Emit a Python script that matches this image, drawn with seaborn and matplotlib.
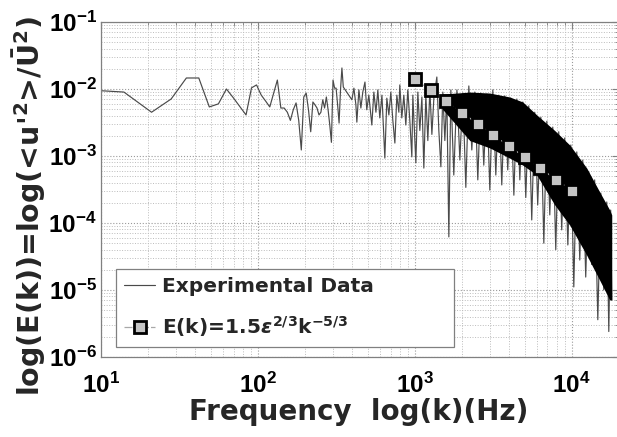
import numpy as np
import pandas as pd
import matplotlib
matplotlib.use("Agg")
import matplotlib.pyplot as plt
import seaborn as sns

# ---------------- data ----------------
# low-frequency part of the measured spectrum (Hz, E(k))
low_freq = [7, 14, 21, 28, 35, 42, 49, 56, 63, 70, 77, 84, 91, 98, 105, 112, 119,
            126, 133, 140, 147, 154, 161, 168, 175, 182, 189, 196, 203, 210, 217,
            224, 231, 238, 245, 252, 259, 266, 273, 280, 287, 294, 301, 308, 315,
            322, 329, 336, 343, 350]
low_val = [0.0099, 0.0090, 0.0045, 0.0071, 0.0146, 0.0146, 0.0054, 0.0060, 0.0100,
           0.0073, 0.0054, 0.0041, 0.0104, 0.0115, 0.0081, 0.0066, 0.0054, 0.0087,
           0.0136, 0.0052, 0.0052, 0.0045, 0.0034, 0.0049, 0.0062, 0.0034, 0.00123,
           0.0076, 0.0087, 0.0049, 0.0023, 0.0064, 0.0058, 0.0052, 0.0041, 0.0045,
           0.0069, 0.0052, 0.0076, 0.0049, 0.0029, 0.0016, 0.0136, 0.0103, 0.0103,
           0.0058, 0.0031, 0.0097, 0.0206, 0.0107]

# mid part (peaks and dips of the spiky trace)
mid_freq = [397, 409, 421, 427, 440, 453, 466, 481, 494, 509, 532, 548, 565, 581,
            598, 617, 635, 644, 663, 683, 703, 724, 746, 768, 791, 802, 826, 851,
            876, 902, 929, 957, 971, 1015, 1045, 1076, 1109, 1141, 1175, 1210,
            1247, 1284, 1322, 1381, 1422, 1465, 1508, 1553, 1599, 1647, 1696]
mid_val = [0.0069, 0.0103, 0.0058, 0.0032, 0.0097, 0.0052, 0.0090, 0.0127, 0.0049,
           0.0081, 0.0029, 0.0090, 0.0045, 0.0097, 0.0037, 0.0081, 0.0019, 0.00093,
           0.0073, 0.0041, 0.0090, 0.0034, 0.00156, 0.0081, 0.0045, 0.0115, 0.0037,
           0.0081, 0.0029, 0.0097, 0.0034, 0.00097, 0.0081, 0.00079, 0.0090, 0.0024,
           0.0076, 0.00066, 0.0081, 0.0017, 0.0097, 0.0021, 0.0073, 0.0151, 0.0024,
           0.00069, 0.0090, 0.0017, 0.0081, 0.000062, 0.0097]

# high-frequency part (alternating peaks / dip tips)
high_freq = [1771, 1854, 1936, 2023, 2113, 2208, 2307, 2411, 2519, 2632, 2750, 2877,
             3005, 3140, 3281, 3428, 3581, 3742, 3909, 4084, 4276, 4467, 4667, 4876,
             5093, 5321, 5559, 5808, 6067, 6353, 6637, 6934, 7244, 7568, 7907, 8260,
             8630, 9016, 9441, 9863, 10304, 10765, 11246, 11749, 12274, 12823, 13397,
             13996, 14655, 15311, 15996, 16711, 17219, 17701, 17989]
high_val = [0.00052, 0.0097, 0.00087, 0.0087, 0.00034, 0.0111, 0.00123, 0.0090,
            0.00044, 0.0087, 0.00073, 0.0084, 0.00031, 0.0097, 0.00052, 0.0081,
            0.00037, 0.0079, 0.00062, 0.0073, 0.00026, 0.0071, 0.00044, 0.0064,
            0.00024, 0.0056, 0.000111, 0.0045, 0.000186, 0.0038, 0.000050, 0.0033,
            0.000132, 0.0027, 0.000040, 0.0023, 0.000079, 0.00186, 0.000047, 0.00146,
            0.0000111, 0.00115, 0.000028, 0.00087, 0.0000156, 0.00058, 0.000024,
            0.00044, 0.0000036, 0.00028, 0.0000100, 0.000206, 0.0000024, 0.000156,
            0.0000071]

# dense (saturated black) core of the spectrum at high frequency
band_freq = [1500, 2241, 3005, 4026, 4876, 5985, 7792, 9708, 12462, 15070, 17460, 17980]
band_hi = [0.0084, 0.0090, 0.0087, 0.0076, 0.0064, 0.0041, 0.0024, 0.00146,
           0.00066, 0.00029, 0.000156, 0.000132]
band_lo = [0.0050, 0.0017, 0.00132, 0.00093, 0.00073, 0.00052, 0.000186, 0.000093,
           0.000033, 0.000014, 0.0000071, 0.0000071]

# Kolmogorov -5/3 reference points
kol_freq = [1000, 1259, 1585, 1995, 2512, 3162, 3981, 5012, 6310, 7943, 10000]
kol_val = [0.0141, 0.0096, 0.00654, 0.00445, 0.00303, 0.00207, 0.00141, 0.00096,
           0.000654, 0.000445, 0.000303]

xtick_vals = [1e1, 1e2, 1e3, 1e4]
xtick_labels = [r"$\mathdefault{10^{1}}$", r"$\mathdefault{10^{2}}$",
                r"$\mathdefault{10^{3}}$", r"$\mathdefault{10^{4}}$"]
ytick_vals = [1e-6, 1e-5, 1e-4, 1e-3, 1e-2, 1e-1]
ytick_labels = [r"$\mathdefault{10^{-6}}$", r"$\mathdefault{10^{-5}}$",
                r"$\mathdefault{10^{-4}}$", r"$\mathdefault{10^{-3}}$",
                r"$\mathdefault{10^{-2}}$", r"$\mathdefault{10^{-1}}$"]

label_exp = "Experimental Data"
label_kol = r"E(k)=1.5$\varepsilon^{\mathdefault{2/3}}$k$^{\mathdefault{-5/3}}$"
xlabel = "Frequency  log(k)(Hz)"
ylabel = r"log(E(k))=log(<u'$^{\mathdefault{2}}$>/$\mathdefault{\bar{U}^{2}}$)"

# ---------------- style ----------------
sns.set_style("white")
plt.rcParams['font.family'] = ['Liberation Sans', 'DejaVu Sans']
plt.rcParams['font.weight'] = 'bold'
WIDE = ['DejaVu Sans']

fig = plt.figure(figsize=(6.17, 4.37), dpi=100)
ax = fig.add_axes([101 / 617, 80 / 437, 518 / 617, 335 / 437])
ax.set_xscale('log')
ax.set_yscale('log')

exp_df = pd.DataFrame({
    "freq": low_freq + mid_freq + high_freq,
    "E": low_val + mid_val + high_val,
})
kol_df = pd.DataFrame({"freq": kol_freq, "E": kol_val})

ax.fill_between(band_freq, band_lo, band_hi, color='black', lw=0, zorder=2.2)
sns.lineplot(data=exp_df, x="freq", y="E", ax=ax, sort=False, estimator=None,
             color='#4a4a4a', lw=0.85, label=label_exp, zorder=2.1)
sns.lineplot(data=kol_df, x="freq", y="E", ax=ax, sort=False, estimator=None,
             color='#a8a8a8', lw=0.9, ls='-.', marker='s', markersize=8,
             markerfacecolor='#c4c4c4', markeredgecolor='black', markeredgewidth=2.0,
             label=label_kol, zorder=3)

ax.set_xlim(10, 2e4)
ax.set_ylim(1e-6, 1e-1)
ax.set_xticks(xtick_vals, xtick_labels)
ax.set_yticks(ytick_vals, ytick_labels)

ax.grid(True, which='major', ls=':', color='#9a9a9a', lw=0.8)
ax.grid(True, which='minor', ls=':', color='#bcbcbc', lw=0.7)
ax.set_axisbelow(True)
ax.tick_params(which='both', direction='in', top=True, right=True, colors='#808080',
               labelcolor='black')
ax.tick_params(which='major', length=5, width=0.8)
ax.tick_params(which='minor', length=3, width=0.6)
ax.tick_params(axis='x', which='major', pad=11, labelsize=17.5)
ax.tick_params(axis='y', which='major', pad=3, labelsize=17.5)
for s in ax.spines.values():
    s.set_color('#808080')
    s.set_linewidth(0.9)

ax.set_xlabel(xlabel, fontsize=20, fontweight='bold', family=WIDE)
ax.set_ylabel(ylabel, fontsize=20.5, fontweight='bold', family=WIDE)
ax.xaxis.set_label_coords(0.498, -0.122)
ax.yaxis.set_label_coords(-0.102, 0.45)

leg = ax.legend(loc='lower left', bbox_to_anchor=(0.029, 0.03, 0.652, 0.25),
                mode='expand', borderaxespad=0,
                frameon=True, fancybox=False, framealpha=1, edgecolor='#808080',
                prop={'size': 14.5, 'weight': 'bold', 'family': WIDE},
                handlelength=1.55, handletextpad=0.35, borderpad=0.4,
                labelspacing=0.9)
leg.get_frame().set_linewidth(0.9)

fig.savefig("out.png", dpi=100)
